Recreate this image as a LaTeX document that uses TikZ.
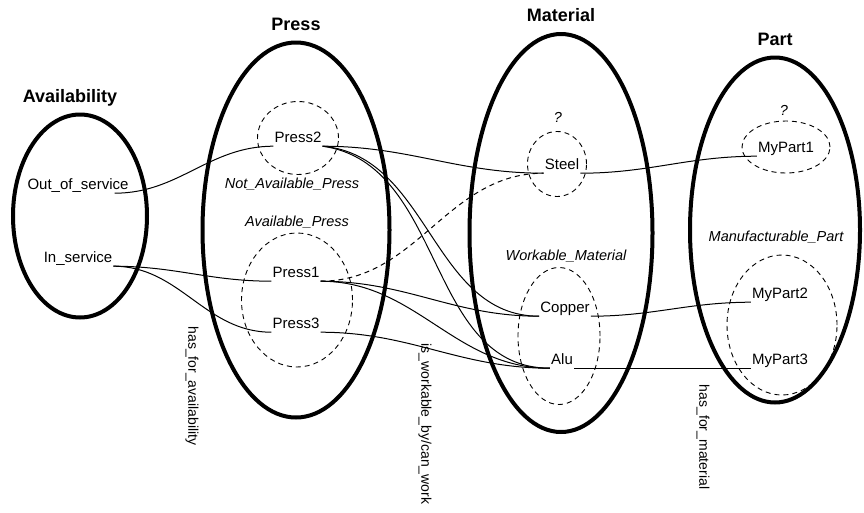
\documentclass[tikz,border=0pt]{standalone}
\usepackage{fontspec}
\setmainfont{Liberation Sans}
\usetikzlibrary{shapes.geometric,positioning}

\begin{document}
\begin{tikzpicture}[
  x=1pt, y=-1pt,
  bigset/.style={ellipse, draw, line width=4pt, inner sep=0pt},
  subset/.style={ellipse, draw, dash pattern=on 5pt off 4pt, line width=0.9pt, inner sep=0pt},
  inst/.style={font=\fontsize{15}{18}\selectfont, inner sep=1pt, text height=11pt, text depth=3pt},
  title/.style={font=\fontsize{18}{21}\selectfont\bfseries, inner sep=2pt, text depth=0pt},
  setname/.style={font=\fontsize{14.5}{17}\selectfont\itshape},
  role/.style={font=\fontsize{14}{17}\selectfont, rotate=-90},
  link/.style={line width=1pt}
]
\useasboundingbox (0,0) rectangle (864,512);

% Sets
\node[bigset, minimum width=134pt, minimum height=203pt] (availset) at (80,216) {};
\node[bigset, minimum width=187pt, minimum height=375pt] (pressset) at (296,230) {};
\node[bigset, minimum width=183pt, minimum height=398pt] (matset) at (561,233) {};
\node[bigset, minimum width=170pt, minimum height=345pt] (partset) at (775,230) {};

\node[title, above=8pt of availset, xshift=-10pt] (availtitle) {Availability};
\node[title, above=8pt of pressset] (presstitle) {Press};
\node[title, above=8pt of matset] (mattitle) {Material};
\node[title, above=8pt of partset] (parttitle) {Part};

% Subsets
\node[subset, minimum width=81pt, minimum height=73pt] (notavail) at (298,138) {};
\node[subset, minimum width=111pt, minimum height=134pt] (avail) at (297,300) {};
\node[subset, minimum width=59pt, minimum height=65pt] (unknownmat) at (557,164) {};
\node[subset, minimum width=82pt, minimum height=137pt] (workable) at (559,336) {};
\node[subset, minimum width=88pt, minimum height=52pt] (unknownpart) at (786,147) {};
\node[subset, minimum width=110pt, minimum height=140pt] (manuf) at (782,325) {};

\node[setname] (notavailname) at (292,184) {Not\_Available\_Press};
\node[setname] (availname) at (297,222) {Available\_Press};
\node[setname] (workname) at (566,256) {Workable\_Material};
\node[setname] (manufname) at (776,237) {Manufacturable\_Part};
\node[setname] (qmat) at (558,117) {?};
\node[setname] (qpart) at (784,110) {?};

% Instances
\node[inst] (oos) at (78,185) {Out\_of\_service};
\node[inst] (inserv) at (78,258) {In\_service};
\node[inst] (press2) at (298,138) {Press2};
\node[inst] (press1) at (296,273) {Press1};
\node[inst] (press3) at (296,324) {Press3};
\node[inst] (steel) at (562,165) {Steel};
\node[inst] (copper) at (565,308) {Copper};
\node[inst] (alu) at (562,360) {Alu};
\node[inst] (mypart1) at (786,148) {MyPart1};
\node[inst] (mypart2) at (780,294) {MyPart2};
\node[inst] (mypart3) at (780,360) {MyPart3};

% Links
\draw[link] ([xshift=-15pt]oos.south east) to[out=0,in=180] (press2.south west);
\draw[link] (inserv.south east) to[out=0,in=180] (press1.south west);
\draw[link] (inserv.south east) to[out=0,in=180] (press3.south west);
\draw[link] (press2.south east) to[out=0,in=180] (steel.south west);
\draw[link] (press2.south east) to[out=-5,in=180] (copper.south west);
\draw[link] (press2.south east) to[out=-8,in=180] (alu.south west);
\draw[link, dash pattern=on 5pt off 4pt] (press1.south east) to[out=0,in=180] (steel.south west);
\draw[link] (press1.south east) to[out=0,in=180] (copper.south west);
\draw[link] (press1.south east) to[out=0,in=180] (alu.south west);
\draw[link] (press3.south east) to[out=0,in=180] (alu.south west);
\draw[link] (steel.south east) to[out=0,in=180] (mypart1.south west);
\draw[link] (copper.south east) to[out=0,in=180] (mypart2.south west);
\draw[link] (alu.south east) -- (mypart3.south west);

% Roles
\node[role] (availrole) at (192,386) {has\_for\_availability};
\node[role] (workrole) at (425,424) {is\_workable\_by/can\_work};
\node[role] (matrole) at (703,437) {has\_for\_material};
\end{tikzpicture}
\end{document}
